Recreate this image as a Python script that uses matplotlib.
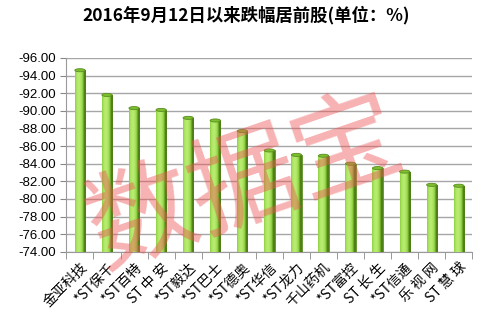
import matplotlib
matplotlib.use('Agg')
import matplotlib.pyplot as plt
import numpy as np
from matplotlib.patches import Ellipse

plt.rcParams['font.family'] = ['Noto Sans CJK SC', 'DejaVu Sans']

names = ["金亚科技", "*ST保千", "*ST百特", "ST 中 安", "*ST毅达", "*ST巴士", "*ST德奥",
         "*ST华信", "*ST龙力", "千山药机", "*ST富控", "ST 长 生", "*ST信通", "乐 视 网", "ST 慧 球"]
values = [-94.6, -91.8, -90.3, -90.1, -89.2, -88.9, -87.7,
          -85.5, -85.0, -84.9, -84.0, -83.5, -83.1, -81.6, -81.5]
yticks = [-96, -94, -92, -90, -88, -86, -84, -82, -80, -78, -76, -74]
base = -74

fig = plt.figure(figsize=(4.92, 3.18), dpi=100)
ax = fig.add_axes([0.135, 0.208, 0.825, 0.61])

x = np.arange(len(names))
w = 0.38

# cylinder-like shading: gradient clipped to each bar
grad = np.linspace(0, 1, 64)
shade = 1 - (2 * grad - 0.7) ** 2
cmap = matplotlib.colors.LinearSegmentedColormap.from_list(
    "g", ["#4f7f17", "#8ccf3f", "#b8ec70"])
for xi, v in zip(x, values):
    bars = ax.bar(xi, v - base, width=w, bottom=base, color="#8ccf3f",
                  edgecolor="#5b8c22", linewidth=0.6, zorder=3)
    im = ax.imshow(shade[np.newaxis, :], cmap=cmap, aspect="auto",
                   extent=[xi - w / 2, xi + w / 2, base, v], zorder=3,
                   vmin=0, vmax=1)
    im.set_clip_path(bars[0])
    ax.add_patch(Ellipse((xi, v), w, 0.35, facecolor="#7cbf2e",
                         edgecolor="#5b8c22", linewidth=0.6, zorder=4))
ax.set_xlim(-0.5, len(names) - 0.5)
ax.set_ylim(-74, -96)

ax.set_yticks(yticks)
ax.set_yticklabels(["%.2f" % t for t in yticks], family=['Liberation Sans'],
                   fontsize=9.5)
ax.yaxis.grid(True, color="#a6a6a6", linewidth=1.0, zorder=0)
ax.set_axisbelow(True)

ax.set_xticks(x)
ax.set_xticklabels(names, rotation=45, ha="right", rotation_mode="anchor",
                   fontsize=10)
ax.set_xticks(np.arange(-0.5, len(names), 1), minor=True)
ax.tick_params(axis="x", which="major", length=0, pad=6)
ax.tick_params(axis="x", which="minor", length=5, color="#888888")
ax.tick_params(axis="y", length=4, color="#888888")

for s in ["top", "right"]:
    ax.spines[s].set_visible(False)
ax.spines["left"].set_color("#999999")
ax.spines["bottom"].set_color("#999999")

fig.text(0.5, 0.953, "2016年9月12日以来跌幅居前股(单位：%)", ha="center",
         va="center", fontsize=12.5, fontweight="bold")

# watermark
fig.text(0.50, 0.42, "数据宝", ha="center", va="center", fontsize=78,
         color="#ee5555", alpha=0.45, rotation=19, zorder=10)

fig.savefig("out.png", dpi=100)
